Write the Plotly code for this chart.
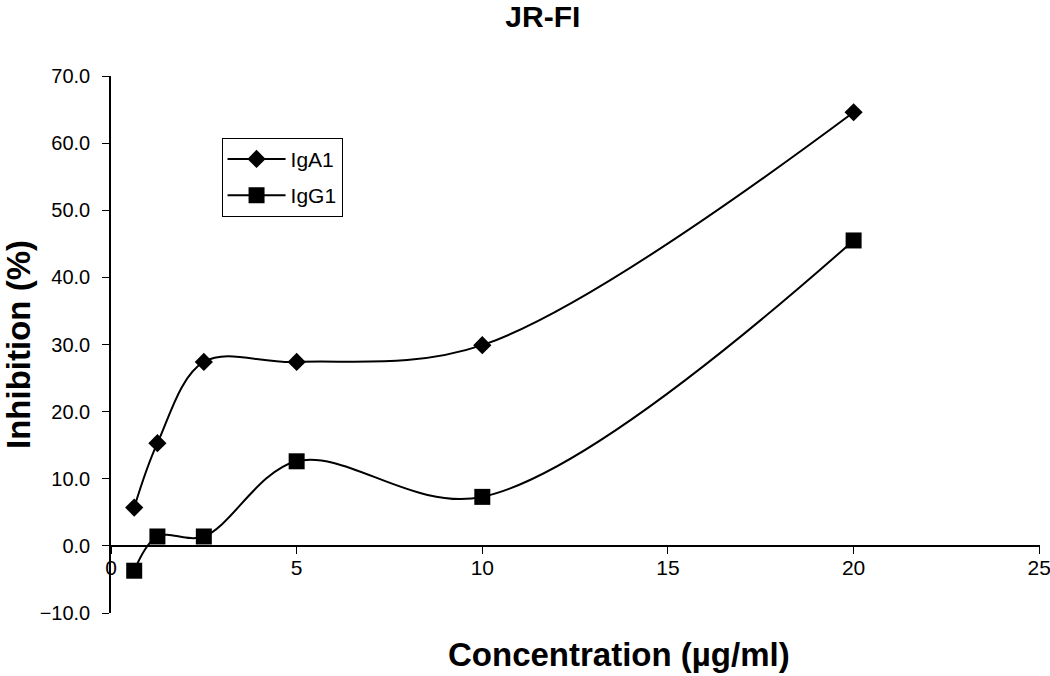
import plotly.graph_objects as go

conc = [0.625, 1.25, 2.5, 5, 10, 20]
iga1 = [5.7, 15.3, 27.4, 27.4, 29.9, 64.6]
igg1 = [-3.7, 1.4, 1.4, 12.6, 7.3, 45.5]
yticks = [-10, 0, 10, 20, 30, 40, 50, 60, 70]
xticks = [0, 5, 10, 15, 20, 25]

FONT = "Arial, Liberation Sans, sans-serif"

fig = go.Figure()
fig.add_trace(go.Scatter(x=conc, y=iga1, name="IgA1", mode="lines+markers", legendgroup="a",
                         line=dict(color="black", width=2, shape="spline", smoothing=1),
                         marker=dict(symbol="diamond", size=14, color="black")))
fig.add_trace(go.Scatter(x=conc, y=igg1, name="IgG1", mode="lines+markers", legendgroup="b",
                         line=dict(color="black", width=2, shape="spline", smoothing=1),
                         marker=dict(symbol="square", size=16, color="black")))

fig.update_layout(
    width=1050, height=676,
    margin=dict(l=111, r=10, t=76, b=63, autoexpand=False),
    plot_bgcolor="white", paper_bgcolor="white",
    font=dict(family=FONT, color="black"),
    title=dict(text="<b>JR-FI</b>", x=0.517, xanchor="center", y=0.975, yanchor="middle",
               font=dict(size=30, family=FONT)),
    showlegend=True,
    legend=dict(x=0.119, y=0.885, xanchor="left", yanchor="top",
                bordercolor="black", borderwidth=1, bgcolor="white",
                font=dict(size=21, family=FONT), tracegroupgap=6, itemwidth=58),
    xaxis=dict(range=[0, 25.02], tickvals=xticks, showgrid=False, zeroline=False,
               showline=True, linecolor="black", linewidth=1.5,
               ticks="outside", ticklen=7, tickcolor="black",
               tickfont=dict(size=21, family=FONT), automargin=False,
               ticklabeloverflow="allow", ticklabelstandoff=-4,
               anchor="free", position=0.125),
    yaxis=dict(range=[-10, 70], tickvals=yticks, tickformat=".1f", showgrid=False,
               zeroline=False, showline=True, linecolor="black", linewidth=1.5,
               ticks="outside", ticklen=7, tickcolor="black",
               tickfont=dict(size=20, family=FONT), automargin=False,
               ticklabelstandoff=8,
               title=dict(text="<b>Inhibition (%)</b>", font=dict(size=33, family=FONT),
                          standoff=10)),
    annotations=[dict(text="<b>Concentration (µg/ml)</b>", xref="paper", yref="paper",
                      x=0.547, y=-0.078, xanchor="center", yanchor="middle",
                      showarrow=False, font=dict(size=33, family=FONT))],
)

fig.write_html("out.html", config={"displayModeBar": False},
               post_script="document.body.style.margin='0';")
